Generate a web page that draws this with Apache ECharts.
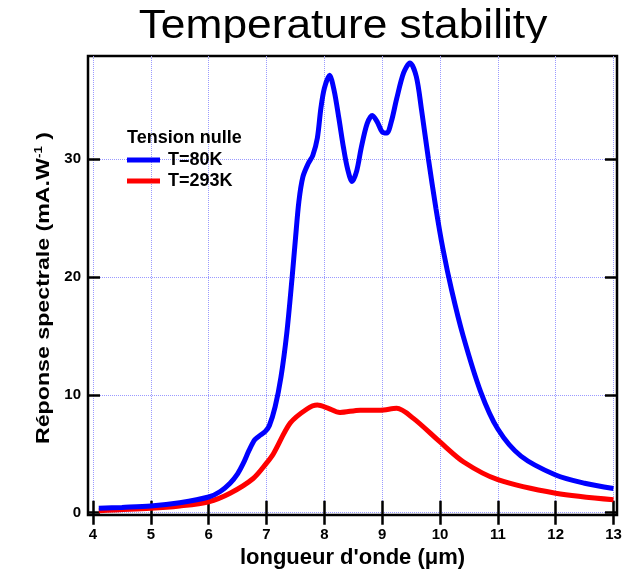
<!DOCTYPE html>
<html>
<head>
<meta charset="utf-8">
<script src="https://cdn.jsdelivr.net/npm/echarts@6/dist/echarts.min.js"></script>
<style>
html,body{margin:0;padding:0;background:#fff;}
#chart{width:637px;height:575px;}
</style>
</head>
<body>
<div id="chart"></div>
<script>
// ---- data ----
const wavelength80 = [4.1, 4.5, 5.0, 5.5, 6.0, 6.2, 6.37, 6.5, 6.6, 6.7, 6.8, 6.9, 6.98, 7.05, 7.15, 7.25, 7.35, 7.44, 7.5, 7.56, 7.63, 7.72, 7.8, 7.88, 7.94, 8.0, 8.09, 8.17, 8.25, 8.33, 8.4, 8.48, 8.56, 8.64, 8.74, 8.83, 8.92, 9.0, 9.08, 9.16, 9.25, 9.37, 9.48, 9.59, 9.68, 9.8, 9.93, 10.05, 10.2, 10.4, 10.7, 11.0, 11.4, 12.0, 12.5, 13.0];
const response80   = [0.37, 0.45, 0.57, 0.85, 1.33, 1.8, 2.5, 3.3, 4.2, 5.3, 6.2, 6.6, 6.9, 7.4, 9.0, 11.5, 15.2, 19.8, 23.2, 26.4, 28.5, 29.6, 30.3, 31.8, 34.3, 36.0, 37.1, 35.8, 33.5, 31.0, 29.2, 28.1, 29.0, 31.0, 33.0, 33.7, 33.1, 32.3, 32.2, 33.2, 35.1, 37.3, 38.15, 37.0, 34.2, 30.0, 25.8, 22.4, 18.9, 15.0, 10.3, 7.1, 4.8, 3.2, 2.5, 2.05];
const wavelength293 = [4.1, 5.0, 5.5, 6.0, 6.37, 6.77, 7.0, 7.12, 7.41, 7.7, 7.88, 8.05, 8.27, 8.62, 8.97, 9.25, 9.54, 10.0, 10.41, 11.0, 12.0, 13.0];
const response293   = [0.17, 0.37, 0.57, 0.93, 1.65, 2.9, 4.2, 5.0, 7.6, 8.8, 9.13, 8.9, 8.5, 8.7, 8.7, 8.85, 8.0, 6.0, 4.3, 2.8, 1.65, 1.1];
const xTicks = [4, 5, 6, 7, 8, 9, 10, 11, 12, 13];
const yTicks = [0, 10, 20, 30];
const seriesNames = ['T=80K', 'T=293K'];
const legendTitle = 'Tension nulle';
const chartTitle = 'Temperature stability';
const xName = "longueur d'onde (\u03bcm)";

const zip = (xs, ys) => xs.map((x, i) => [x, ys[i]]);

const FONT = 'Liberation Sans, Arial, sans-serif';
const gridLine = { show: true, lineStyle: { color: '#9a9aff', type: 'dotted', width: 1 } };
const tickStyle = { show: true, inside: true, length: 12, lineStyle: { color: '#000', width: 2.5 } };

const chart = echarts.init(document.getElementById('chart'), null, { renderer: 'canvas' });
chart.setOption({
  animation: false,
  backgroundColor: '#fff',
  grid: { left: 88, right: 20, top: 56, bottom: 60, show: true, borderColor: '#000', borderWidth: 2.5, containLabel: false },
  xAxis: [{
    type: 'value', min: 3.9135, max: 13.0605, position: 'bottom',
    axisLine: { show: false },
    axisTick: Object.assign({ customValues: xTicks }, tickStyle),
    axisLabel: { customValues: xTicks, color: '#000', fontSize: 15, fontWeight: 'bold', fontFamily: FONT, margin: 12 },
    splitLine: gridLine,
    name: xName, nameLocation: 'middle', nameGap: 32,
    nameTextStyle: { color: '#000', fontSize: 22, fontWeight: 'bold', fontFamily: FONT }
  }, {
    type: 'value', min: 3.9135, max: 13.0605, position: 'top',
    axisLine: { show: false },
    axisTick: Object.assign({ customValues: xTicks }, tickStyle),
    axisLabel: { show: false },
    splitLine: { show: false }
  }],
  yAxis: [{
    type: 'value', min: -0.195, max: 38.74, position: 'left',
    axisLine: { show: false },
    axisTick: Object.assign({ customValues: yTicks }, tickStyle),
    axisLabel: { customValues: yTicks, color: '#000', fontSize: 15, fontWeight: 'bold', fontFamily: FONT, margin: 7 },
    splitLine: gridLine
  }, {
    type: 'value', min: -0.195, max: 38.74, position: 'right',
    axisLine: { show: false },
    axisTick: Object.assign({ customValues: yTicks }, tickStyle),
    axisLabel: { show: false },
    splitLine: { show: false }
  }],
  legend: {
    orient: 'vertical', left: 127, top: 151, padding: 0, itemGap: 3,
    itemWidth: 33, itemHeight: 5, icon: 'rect', itemStyle: { borderWidth: 0 },
    textStyle: { color: '#000', fontSize: 18, fontWeight: 'bold', fontFamily: FONT, padding: [0, 0, 0, 3] },
    data: seriesNames
  },
  graphic: [
    { type: 'text', x: 343, y: 27, z: 10, scaleX: 1.08, style: { text: chartTitle, align: 'center', verticalAlign: 'middle', font: 'normal 41px ' + FONT, fill: '#000' } },
    { type: 'rect', z: 11, shape: { x: 0, y: 43, width: 637, height: 11 }, style: { fill: '#fff' } },
    { type: 'text', x: 127, y: 138, z: 10, style: { text: legendTitle, align: 'left', verticalAlign: 'middle', font: 'bold 18px ' + FONT, fill: '#000' } },
    { type: 'text', x: 44, y: 288, z: 10, rotation: Math.PI / 2, scaleX: 1.22,
      style: {
        text: '{a|Réponse spectrale (mA.W}{s|-1}{a| )}', align: 'center', verticalAlign: 'middle',
        font: 'bold 19px ' + FONT, fill: '#000',
        rich: {
          a: { fontSize: 19, fontWeight: 'bold', fontFamily: FONT, fill: '#000', color: '#000' },
          s: { fontSize: 11, fontWeight: 'bold', fontFamily: FONT, fill: '#000', color: '#000', verticalAlign: 'top', padding: [0, 0, 10, 0] }
        }
      } }
  ],
  series: [{
    name: seriesNames[0], type: 'line', xAxisIndex: 0, yAxisIndex: 0,
    data: zip(wavelength80, response80), smooth: 0.3, showSymbol: false, symbol: 'none',
    lineStyle: { color: '#0000ff', width: 5 }, itemStyle: { color: '#0000ff' }, z: 3
  }, {
    name: seriesNames[1], type: 'line', xAxisIndex: 0, yAxisIndex: 0,
    data: zip(wavelength293, response293), smooth: 0.3, showSymbol: false, symbol: 'none',
    lineStyle: { color: '#ff0000', width: 5 }, itemStyle: { color: '#ff0000' }, z: 2
  }]
});
</script>
</body>
</html>
